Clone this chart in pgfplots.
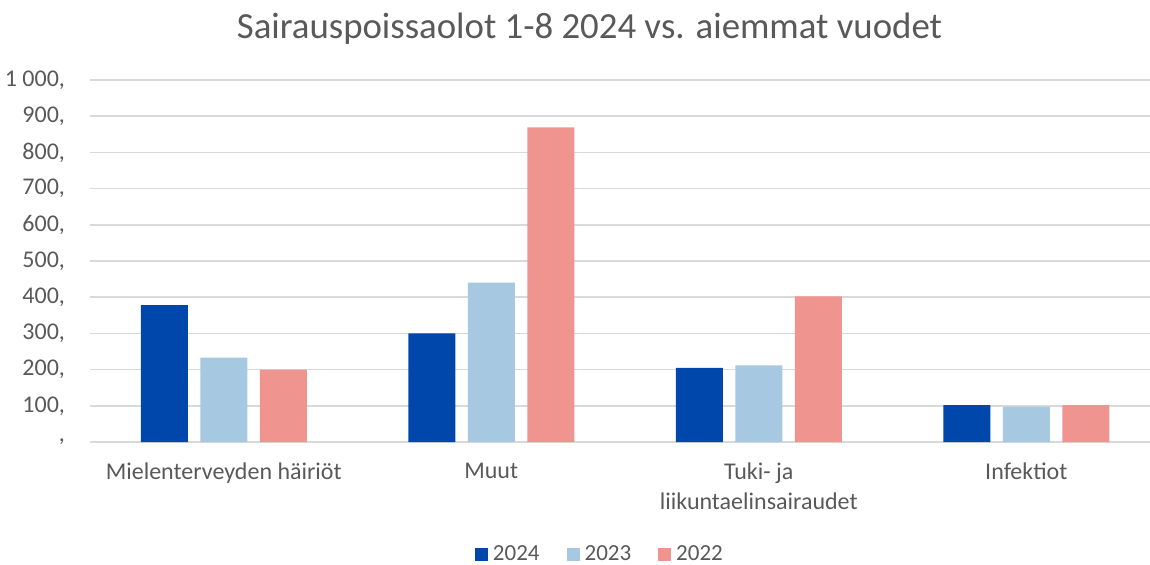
\documentclass[border=0pt]{standalone}
\usepackage{pgfplots}
\pgfplotsset{compat=1.18}
\usepackage{fontspec}
\setmainfont{Carlito}
\definecolor{c24}{HTML}{0047AB}
\definecolor{c23}{HTML}{A6C8E1}
\definecolor{c22}{HTML}{F09490}
\definecolor{txt}{HTML}{595959}
\definecolor{grd}{HTML}{D9D9D9}
\begin{document}
\begin{tikzpicture}
\path[use as bounding box] (0,0) rectangle (575pt,282pt);
\begin{axis}[
  at={(45pt,61pt)}, anchor=south west,
  width=530pt, height=181pt, scale only axis,
  ybar=6.25pt, bar width=23.5pt,
  xmin=-0.5, xmax=3.4626, ymin=0, ymax=1000,
  xtick={0,1,2,3},
  xticklabels={{Mielenterveyden häiriöt},{Muut},{Tuki- ja\\liikuntaelinsairaudet},{Infektiot}},
  ytick={0,100,...,1000},
  yticklabels={{,},{100,},{200,},{300,},{400,},{500,},{600,},{700,},{800,},{900,},{1 000,}},
  /pgf/number format/assume math mode=true,
  major tick length=0pt,
  axis line style={draw=none},
  ymajorgrids, grid style={grd, line width=0.75pt},
  ticklabel style={font=\fontsize{12}{15}\selectfont, text=txt},
  xticklabel style={align=center, yshift=-7pt},
  yticklabel style={xshift=-9pt},
  title={Sairauspoissaolot 1-8 2024 vs. aiemmat vuodet},
  title style={at={(axis description cs:0.4712,1.110)}, anchor=base, yshift=-5pt, font=\fontsize{18.4}{22}\selectfont, text=txt},
  legend style={at={(axis description cs:0.482,-0.312)}, anchor=center, draw=none, legend columns=-1,
    font=\fontsize{11.5}{13}\selectfont, text=txt, inner ysep=1pt,
    /tikz/every odd column/.append style={column sep=0.5pt},
    /tikz/every even column/.append style={column sep=11.5pt}},
  legend image code/.code={\fill (0pt,-3.25pt) rectangle (6.5pt,3.25pt);},
]
\addplot[fill=c24, draw=none] coordinates {(0,378) (1,300) (2,205) (3,102)};
\addplot[fill=c23, draw=none] coordinates {(0,233) (1,440) (2,212) (3,98)};
\addplot[fill=c22, draw=none] coordinates {(0,200) (1,869) (2,402) (3,102)};
\legend{2024,2023,2022}
\end{axis}
\end{tikzpicture}
\end{document}
